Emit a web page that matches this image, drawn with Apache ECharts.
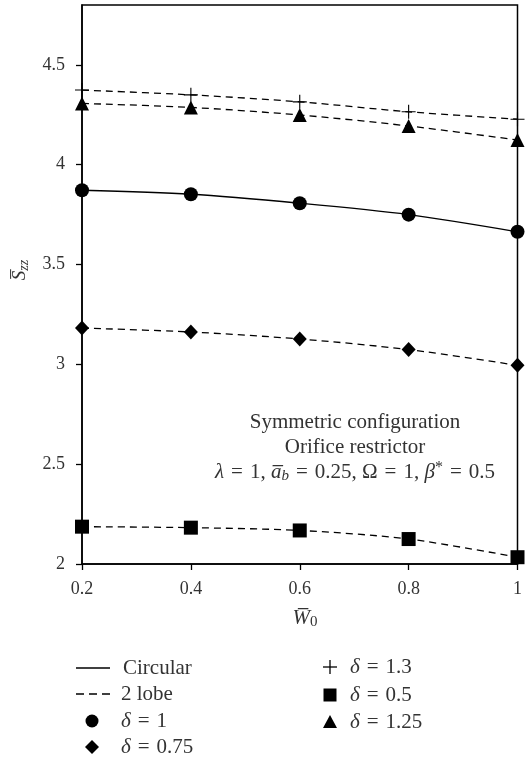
<!DOCTYPE html>
<html>
<head>
<meta charset="utf-8">
<script src="https://cdn.jsdelivr.net/npm/echarts@6/dist/echarts.min.js"></script>
<style>
  html, body { margin: 0; padding: 0; background: #fff; }
  #chart { width: 525px; height: 761px; }
</style>
</head>
<body>
<div id="chart"></div>
<script>
// Dimensionless flow W0 on the horizontal axis
const w0 = [0.2, 0.4, 0.6, 0.8, 1.0];

// Stiffness coefficient S_zz for each bearing / non-circularity case
const circularDelta1 = [3.872, 3.852, 3.807, 3.750, 3.664];
const lobeDelta075 = [3.182, 3.162, 3.127, 3.074, 2.995];
const lobeDelta05 = [2.187, 2.182, 2.168, 2.125, 2.034];
const lobeDelta13 = [4.374, 4.350, 4.315, 4.265, 4.228];
const lobeDelta125 = [4.307, 4.287, 4.249, 4.194, 4.124];

const xTicks = [0.2, 0.4, 0.6, 0.8, 1.0];
const yTicks = [2, 2.5, 3, 3.5, 4, 4.5];

const SERIF = '"Liberation Serif", "DejaVu Serif", serif';
const TXT = '#333';
const INK = '#000';
const EQ = '\u2004=\u2004';   // math-style spacing around "="
const FS = 21;

const plusPath = 'path://M-0.08,-1L0.08,-1L0.08,-0.08L1,-0.08L1,0.08L0.08,0.08L0.08,1L-0.08,1L-0.08,0.08L-1,0.08L-1,-0.08L-0.08,-0.08Z';

function pairs(ys) { return w0.map((x, i) => [x, ys[i]]); }

function curve(name, ys, symbol, size, dashed) {
  return {
    name: name,
    type: 'line',
    data: pairs(ys),
    smooth: 0.3,
    symbol: symbol,
    symbolSize: size,
    showAllSymbol: true,
    clip: false,
    lineStyle: { color: INK, width: 1.3, type: dashed ? [7, 5] : 'solid' },
    itemStyle: { color: INK, borderWidth: 0 },
    emphasis: { disabled: true }
  };
}

const chart = echarts.init(document.getElementById('chart'), null, { renderer: 'canvas' });

function legendText(x, y, text) {
  return {
    type: 'text', x: x, y: y,
    style: {
      text: text, verticalAlign: 'middle', align: 'left',
      fontFamily: SERIF, fontSize: FS, fill: TXT,
      rich: { d: { fontStyle: 'italic', fontFamily: SERIF, fontSize: FS, fill: TXT } }
    }
  };
}

chart.setOption({
  animation: false,
  backgroundColor: '#fff',
  grid: {
    left: 82, right: 5, top: 5, bottom: 197,
    show: true, borderColor: INK, borderWidth: 1.5, backgroundColor: 'transparent'
  },
  xAxis: {
    type: 'value',
    min: 0.2, max: 1.0, interval: 0.2,
    axisLine: { show: true, onZero: false, lineStyle: { color: INK, width: 1.5 } },
    axisTick: { show: true, inside: false, length: 6, lineStyle: { color: INK, width: 1.3 }, customValues: xTicks },
    axisLabel: {
      color: TXT, fontFamily: SERIF, fontSize: 18, margin: 16,
      customValues: xTicks,
      formatter: v => String(Math.round(v * 10) / 10)
    },
    splitLine: { show: false }
  },
  yAxis: {
    type: 'value',
    min: 2, max: 4.8, interval: 0.5,
    axisLine: { show: true, onZero: false, lineStyle: { color: INK, width: 1.5 } },
    axisTick: { show: true, inside: false, length: 6, lineStyle: { color: INK, width: 1.3 }, customValues: yTicks },
    axisLabel: {
      color: TXT, fontFamily: SERIF, fontSize: 18, margin: 17,
      customValues: yTicks,
      formatter: v => String(v)
    },
    splitLine: { show: false }
  },
  series: [
    curve('Circular, δ = 1', circularDelta1, 'circle', 14, false),
    curve('2 lobe, δ = 0.75', lobeDelta075, 'diamond', [14, 15], true),
    curve('2 lobe, δ = 0.5', lobeDelta05, 'rect', 14, true),
    curve('2 lobe, δ = 1.3', lobeDelta13, plusPath, 14, true),
    curve('2 lobe, δ = 1.25', lobeDelta125, 'triangle', 14, true)
  ],
  graphic: [
    // axis titles
    {
      type: 'text', x: 20, y: 270, rotation: Math.PI / 2,
      style: {
        text: '{s|S\u0305}{sub|zz}',
        align: 'center', verticalAlign: 'middle',
        rich: {
          s: { fontFamily: SERIF, fontSize: 19, fontStyle: 'italic', fill: TXT },
          sub: { fontFamily: SERIF, fontSize: 14, fontStyle: 'italic', fill: TXT, verticalAlign: 'bottom', padding: [8, 0, 0, 0] }
        }
      }
    },
    {
      type: 'text', x: 305, y: 618,
      style: {
        text: '{w|W\u0305}{sub|0}',
        align: 'center', verticalAlign: 'middle',
        rich: {
          w: { fontFamily: SERIF, fontSize: 21, fontStyle: 'italic', fill: TXT },
          sub: { fontFamily: SERIF, fontSize: 15, fill: TXT, verticalAlign: 'bottom', padding: [8, 0, 0, 0] }
        }
      }
    },
    // annotation inside the plot
    {
      type: 'text', x: 355, y: 422,
      style: { text: 'Symmetric configuration', align: 'center', verticalAlign: 'middle', fontFamily: SERIF, fontSize: FS, fill: TXT }
    },
    {
      type: 'text', x: 355, y: 447,
      style: { text: 'Orifice restrictor', align: 'center', verticalAlign: 'middle', fontFamily: SERIF, fontSize: FS, fill: TXT }
    },
    {
      type: 'text', x: 355, y: 472,
      style: {
        text: '{i|λ}' + EQ + '1, {i|a\u0305}{sub|b}' + EQ + '0.25, Ω' + EQ + '1, {i|β}{sup|*}' + EQ + '0.5',
        align: 'center', verticalAlign: 'middle',
        fontFamily: SERIF, fontSize: FS, fill: TXT,
        rich: {
          i: { fontFamily: SERIF, fontSize: FS, fontStyle: 'italic', fill: TXT },
          sub: { fontFamily: SERIF, fontSize: 15, fontStyle: 'italic', fill: TXT, verticalAlign: 'bottom', padding: [9, 0, 0, 0] },
          sup: { fontFamily: SERIF, fontSize: 16, fill: TXT, verticalAlign: 'top', padding: [0, 0, 6, 0] }
        }
      }
    },
    // legend: line styles
    { type: 'line', shape: { x1: 76, y1: 668, x2: 110, y2: 668 }, style: { stroke: INK, lineWidth: 1.3 } },
    legendText(123, 668, 'Circular'),
    { type: 'line', shape: { x1: 76, y1: 694, x2: 110, y2: 694 }, style: { stroke: INK, lineWidth: 1.3, lineDash: [8, 5] } },
    legendText(121, 694, '2 lobe'),
    // legend: markers
    { type: 'circle', shape: { cx: 92, cy: 721, r: 6.5 }, style: { fill: INK } },
    legendText(121, 721, '{d|δ}' + EQ + '1'),
    { type: 'polygon', shape: { points: [[92, 740], [99, 747], [92, 754], [85, 747]] }, style: { fill: INK } },
    legendText(121, 747, '{d|δ}' + EQ + '0.75'),
    { type: 'line', shape: { x1: 323, y1: 667, x2: 337, y2: 667 }, style: { stroke: INK, lineWidth: 1.3 } },
    { type: 'line', shape: { x1: 330, y1: 660, x2: 330, y2: 674 }, style: { stroke: INK, lineWidth: 1.3 } },
    legendText(350, 667, '{d|δ}' + EQ + '1.3'),
    { type: 'rect', shape: { x: 323.5, y: 688.5, width: 13, height: 13 }, style: { fill: INK } },
    legendText(350, 695, '{d|δ}' + EQ + '0.5'),
    { type: 'polygon', shape: { points: [[330, 715], [337, 728], [323, 728]] }, style: { fill: INK } },
    legendText(350, 722, '{d|δ}' + EQ + '1.25')
  ]
});
</script>
</body>
</html>
